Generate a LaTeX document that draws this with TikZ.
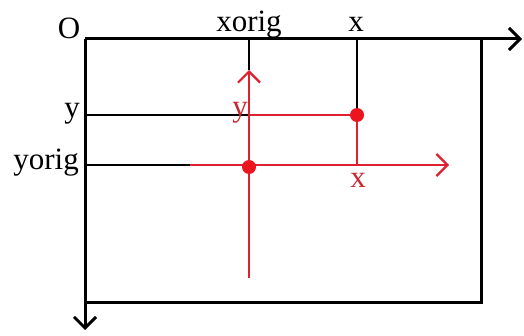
\documentclass[tikz,border=0pt]{standalone}
\usepackage{fontspec}
\setmainfont{Liberation Serif}
\usetikzlibrary{arrows.meta}
\definecolor{redline}{RGB}{222,32,48}
\definecolor{reddot}{RGB}{236,20,30}
\definecolor{redtext}{RGB}{200,40,50}
\begin{document}
\begin{tikzpicture}[x=1pt,y=-1pt,
  lbl/.style={font=\fontsize{31}{31}\selectfont, inner sep=0pt, anchor=base},
  axis/.style={line width=3pt, black},
  thinblack/.style={line width=1.2pt, black},
  thinred/.style={line width=1.1pt, redline},
  thickred/.style={line width=2.2pt, redline},
  barb/.style={-{Straight Barb[length=11pt,width=22pt]}},
  dot/.style={circle, fill=reddot, inner sep=0pt, minimum size=14pt}]
\useasboundingbox (0,0) rectangle (524,336);
\fill[white] (0,0) rectangle (524,336);
% frame coordinates
\coordinate (O) at (85,39);
\coordinate (xend) at (522,39);
\coordinate (yend) at (85,330);
\coordinate (TR) at (481,39);
\coordinate (BR) at (481,302);
\coordinate (BL) at (85,302);
% guide coordinates
\coordinate (xo) at (249,39);
\coordinate (xt) at (357,39);
\coordinate (vtop) at (249,70);
\coordinate (vbot) at (249,278);
\coordinate (yl) at (85,115);
\coordinate (yc) at (249,115);
\coordinate (yol) at (85,165);
\coordinate (hs) at (190,165);
\coordinate (he) at (449,165);
\coordinate (xb) at (357,165);
% thin guide lines
\draw[thinblack] (xo) -- (vtop);
\draw[thinblack] (xt) -- (357,115);
\draw[thinblack] (yl) -- (yc);
\draw[thinblack] (yol) -- (hs);
\draw[thinred] (yc) -- (357,115);
\draw[thinred] (357,115) -- (xb);
% red local axes
\draw[thickred, barb] (vbot) -- (vtop);
\draw[thickred, barb] (hs) -- (he);
% frame
\draw[axis, barb] (O) -- (xend);
\draw[axis, barb] (O) -- (yend);
\draw[axis] (TR) -- (BR) -- (BL);
% dots
\node[dot] (P) at (357,115) {};
\node[dot] (Q) at (249,167) {};
% labels
\node[lbl] (lO) at (69,39) {O};
\node[lbl] (lxorig) at (249,32) {xorig};
\node[lbl] (lx) at (356,32) {x};
\node[lbl, anchor=base east] (ly) at (80,118) {y};
\node[lbl, anchor=base east] (lyorig) at (79,170) {yorig};
\node[lbl, text=redtext] (ry) at (240,117) {y};
\node[lbl, text=redtext] (rx) at (358,188) {x};
\end{tikzpicture}
\end{document}
